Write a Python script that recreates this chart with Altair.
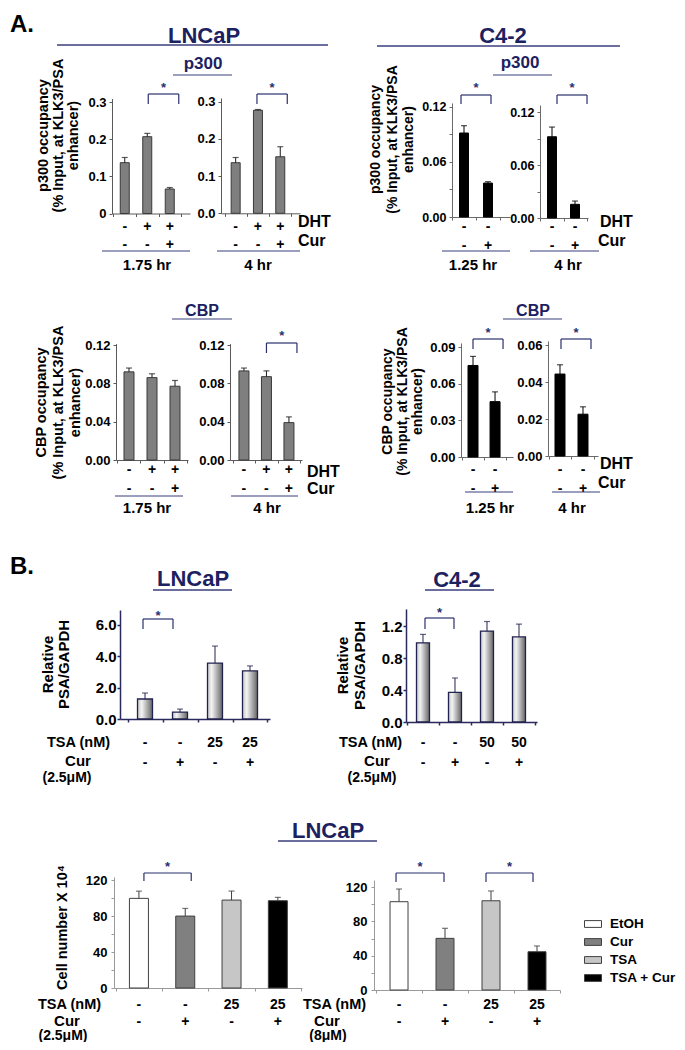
import altair as alt
import pandas as pd

FONT = "Liberation Sans"
NAVY = "#1c2160"
LINE = "#3b3f7c"
BRK = "#2b2f6e"
OFF = 8          # page margin (reference pixel -> canvas pixel)
WIDTH = 669
HEIGHT = 1034


def cx(v):
    return v - OFF


# ---------------- data ----------------
dht_3 = ["-", "+", "+"]
cur_3 = ["-", "-", "+"]
dht_2 = ["-", "-"]
cur_2 = ["-", "+"]
tsa_25 = ["-", "-", "25", "25"]
tsa_50 = ["-", "-", "50", "50"]
cur_4 = ["-", "+", "-", "+"]
conditions = ["EtOH", "Cur", "TSA", "TSA + Cur"]
cell_colors = ["#ffffff", "#808080", "#c6c6c6", "#000000"]

p300_lncap_175_mean = [0.137, 0.207, 0.066]
p300_lncap_175_err = [0.014, 0.009, 0.004]
p300_lncap_4_mean = [0.136, 0.277, 0.152]
p300_lncap_4_err = [0.014, 0.002, 0.027]
p300_c42_125_mean = [0.0916, 0.037]
p300_c42_125_err = [0.008, 0.0015]
p300_c42_4_mean = [0.092, 0.0155]
p300_c42_4_err = [0.011, 0.0037]
cbp_lncap_175_mean = [0.092, 0.086, 0.077]
cbp_lncap_175_err = [0.004, 0.004, 0.006]
cbp_lncap_4_mean = [0.093, 0.087, 0.039]
cbp_lncap_4_err = [0.003, 0.006, 0.006]
cbp_c42_125_mean = [0.0749, 0.0453]
cbp_c42_125_err = [0.0074, 0.008]
cbp_c42_4_mean = [0.0443, 0.0226]
cbp_c42_4_err = [0.005, 0.004]
psa_lncap_mean = [1.27, 0.44, 3.55, 3.05]
psa_lncap_err = [0.38, 0.19, 1.08, 0.32]
psa_c42_mean = [0.99, 0.37, 1.136, 1.064]
psa_c42_err = [0.105, 0.18, 0.12, 0.16]
cells_cur25_mean = [99.6, 79.9, 97.7, 97.0]
cells_cur25_err = [8.0, 8.5, 10.0, 3.7]
cells_cur8_mean = [102.9, 60.2, 104.0, 44.6]
cells_cur8_err = [14.8, 11.7, 11.4, 6.7]

GRAD = alt.LinearGradient(
    gradient="linear",
    stops=[alt.GradientStop(color="#c4c4c4", offset=0),
           alt.GradientStop(color="#f4f4f4", offset=0.28),
           alt.GradientStop(color="#656565", offset=1)],
    x1=0, x2=1, y1=0, y2=0)

STY = {
    "gray": dict(fill="#7f7f7f", stroke="#3a3a3a", sw=1, err="#1a1a1a", axis="#5a5a5a", aw=1, lp=3),
    "black": dict(fill="#000000", stroke="#000000", sw=1, err="#000000", axis="#6a6a6a", aw=1, lp=3),
    "grad": dict(fill=GRAD, stroke="#22224f", sw=1.3, err="#22224f", axis="#2a2a5e", aw=1.5, lp=1),
    "cells": dict(fill=None, stroke="#404040", sw=1, err="#404040", axis="#9a9a9a", aw=1, lp=4),
}


def ylabel_expr(vals, labs):
    expr = "''"
    for v, l in reversed(list(zip(vals, labs))):
        expr = f"abs(datum.value - {v}) < 1e-9 ? '{l}' : ({expr})"
    return expr


def build_panel(s):
    st = STY[s["style"]]
    n = len(s["mean"])
    cats = [f"c{i}" for i in range(n)]
    ax = cx(s["ax"])
    y0 = cx(s["y0"])
    ytop = y0 - s["ymax"] * s["ppu"]
    step = s["W"] / (n + 2 * s["po"])
    xs = alt.Scale(domain=cats, range=[ax, ax + s["W"]], paddingInner=0,
                   paddingOuter=s["po"], align=s["align"])
    ys = alt.Scale(domain=[0, s["ymax"]], range=[y0, ytop], nice=False, zero=False)
    xaxis = alt.Axis(orient="bottom", offset=y0 - HEIGHT, labels=False, title=None,
                     grid=False, tickBand="extent", tickSize=3,
                     domainColor=st["axis"], tickColor=st["axis"],
                     domainWidth=st["aw"], tickWidth=st["aw"])
    ykw = dict(orient="left", offset=-ax, values=s["yvals"],
               labelExpr=ylabel_expr(s["yvals"], s["ylabs"]), grid=False,
               tickSize=3, labelPadding=st["lp"], domainColor=st["axis"],
               tickColor=st["axis"], domainWidth=st["aw"], tickWidth=st["aw"],
               labelFont=FONT, labelFontSize=s["labsize"], labelFontWeight="bold",
               labelColor="black")
    if "ytitle" in s:
        t = s["ytitle"]
        nl = len(t["lines"])
        ykw.update(title=t["lines"] if nl > 1 else t["lines"][0],
                   titleX=t["tx"] - s["ax"] - (nl - 1) / 2 * t["lh"], titleY=cx(t["ty"]),
                   titleAngle=270, titleBaseline="middle", titleAlign="center",
                   titleFont=FONT, titleFontSize=t["fs"], titleFontWeight="bold",
                   titleColor="black", titleLineHeight=t["lh"])
    else:
        ykw.update(title=None)
    yaxis = alt.Axis(**ykw)

    df = pd.DataFrame({"cat": cats, "mean": s["mean"],
                       "hi": [m + e for m, e in zip(s["mean"], s["err"])],
                       "r1": s["r1"], "r2": s["r2"]})
    if s["style"] == "cells":
        df["cond"] = conditions
    base = alt.Chart(df)
    Xb = alt.X("cat:N", scale=xs, axis=xaxis)
    Xc = alt.X("cat:N", scale=xs, axis=xaxis, bandPosition=0.5)
    Ym = alt.Y("mean:Q", scale=ys, axis=yaxis)
    Yh = alt.Y("hi:Q", scale=ys, axis=yaxis)

    layers = []
    if s["style"] == "cells":
        if s.get("legend"):
            leg = alt.Legend(orient="none", legendX=cx(s["legend"][0]), legendY=cx(s["legend"][1]),
                             title=None, symbolType="M-1,-0.4H1V0.4H-1Z", symbolSize=289,
                             symbolStrokeColor="#404040", symbolStrokeWidth=1,
                             labelFont=FONT, labelFontSize=13.5, labelFontWeight="bold",
                             labelColor="black", labelOffset=8, rowPadding=2, padding=0)
        else:
            leg = None
        layers.append(base.mark_bar(size=s["bw"], stroke=st["stroke"], strokeWidth=st["sw"]).encode(
            x=Xb, y=Ym,
            color=alt.Color("cond:N", scale=alt.Scale(domain=conditions, range=cell_colors), legend=leg)))
    else:
        layers.append(base.mark_bar(size=s["bw"], fill=st["fill"], stroke=st["stroke"],
                                    strokeWidth=st["sw"]).encode(x=Xb, y=Ym))
    layers.append(base.mark_rule(color=st["err"], strokeWidth=1).encode(x=Xc, y=Ym, y2=alt.Y2("hi")))
    layers.append(base.mark_tick(color=st["err"], thickness=1.2, size=6).encode(x=Xc, y=Yh))
    for key, yy in (("r1", s["r1y"]), ("r2", s["r2y"])):
        layers.append(base.mark_text(font=FONT, fontSize=14, fontWeight="bold", color="black",
                                     baseline="alphabetic").encode(
            x=Xc, y=alt.value(cx(yy)), text=alt.Text(f"{key}:N")))
    for (i, j, dl, dr, yh, yb, ysb) in s.get("brackets", []):
        bl = alt.Chart(pd.DataFrame({"cat": [cats[i]], "cat2": [cats[j]]}))
        br = alt.Chart(pd.DataFrame({"cat": [cats[j]]}))
        layers.append(bl.mark_rule(color=BRK, strokeWidth=1.2, xOffset=dl, x2Offset=dr).encode(
            x=Xc, x2=alt.X2("cat2", bandPosition=0.5), y=alt.value(cx(yh))))
        layers.append(bl.mark_rule(color=BRK, strokeWidth=1.2, xOffset=dl).encode(
            x=Xc, y=alt.value(cx(yh)), y2=alt.value(cx(yb))))
        layers.append(br.mark_rule(color=BRK, strokeWidth=1.2, xOffset=dr).encode(
            x=Xc, y=alt.value(cx(yh)), y2=alt.value(cx(yb))))
        layers.append(bl.mark_text(text="*", font=FONT, fontSize=13, fontWeight="bold", color=BRK,
                                   baseline="alphabetic", xOffset=(step + dl + dr) / 2).encode(
            x=Xc, y=alt.value(cx(ysb))))
    return alt.layer(*layers)


dummy = pd.DataFrame({"k": [0]})


def txt(s, x, y, size, align="left", color="black"):
    return alt.Chart(dummy).mark_text(text=s, font=FONT, fontSize=size, fontWeight="bold",
                                      align=align, baseline="alphabetic", color=color).encode(
        x=alt.value(cx(x)), y=alt.value(cx(y)))


def hline(x1, x2, y, color=LINE, w=1.2):
    return alt.Chart(dummy).mark_rule(color=color, strokeWidth=w).encode(
        x=alt.value(cx(x1)), x2=alt.value(cx(x2)), y=alt.value(cx(y)))


T_P300 = ["p300 occupancy", "(% Input, at KLK3/PSA", "enhancer)"]
T_CBP = ["CBP occupancy", "(% Input, at KLK3/PSA", "enhancer)"]
T_PSA = ["Relative", "PSA/GAPDH"]

panels = [
    # A. p300, LNCaP
    dict(mean=p300_lncap_175_mean, err=p300_lncap_175_err, r1=dht_3, r2=cur_3, ax=112, W=78,
         po=0.233, align=0.143, y0=213.5, ppu=371, ymax=0.31, yvals=[0, 0.1, 0.2, 0.3],
         ylabs=["0", "0.1", "0.2", "0.3"], bw=9, style="gray", r1y=231, r2y=249, labsize=13,
         brackets=[(1, 2, 1, 9, 94, 104, 92)],
         ytitle=dict(lines=T_P300, tx=58, ty=135, lh=15, fs=14.5)),
    dict(mean=p300_lncap_4_mean, err=p300_lncap_4_err, r1=dht_3, r2=cur_3, ax=221, W=79,
         po=0.271, align=0.29, y0=213.3, ppu=372, ymax=0.31, yvals=[0, 0.1, 0.2, 0.3],
         ylabs=["0.0", "0.1", "0.2", "0.3"], bw=9, style="gray", r1y=231, r2y=249, labsize=13,
         brackets=[(1, 2, -1, 7, 94, 104, 92)]),
    # A. p300, C4-2
    dict(mean=p300_c42_125_mean, err=p300_c42_125_err, r1=dht_2, r2=cur_2, ax=452, W=58,
         po=0.208, align=0, y0=217, ppu=916.7, ymax=0.1244, yvals=[0, 0.03, 0.06, 0.09, 0.12],
         ylabs=["0.00", "", "0.06", "", "0.12"], bw=9, style="black", r1y=231, r2y=250, labsize=12.5,
         brackets=[(0, 1, -3, 3, 95, 104, 92)],
         ytitle=dict(lines=T_P300, tx=392, ty=139, lh=16.5, fs=14)),
    dict(mean=p300_c42_4_mean, err=p300_c42_4_err, r1=dht_2, r2=cur_2, ax=540, W=48,
         po=0.043, align=0.25, y0=218, ppu=883, ymax=0.128, yvals=[0, 0.03, 0.06, 0.09, 0.12],
         ylabs=["0.00", "", "0.06", "", "0.12"], bw=9, style="black", r1y=231, r2y=250, labsize=12.5,
         brackets=[(0, 1, 5, 12, 95, 104, 92)]),
    # A. CBP, LNCaP
    dict(mean=cbp_lncap_175_mean, err=cbp_lncap_175_err, r1=dht_3, r2=cur_3, ax=116, W=72,
         po=0.065, align=0.5, y0=460, ppu=958, ymax=0.1215, yvals=[0, 0.04, 0.08, 0.12],
         ylabs=["0.00", "0.04", "0.08", "0.12"], bw=10, style="gray", r1y=474, r2y=493, labsize=13,
         ytitle=dict(lines=T_CBP, tx=58, ty=402, lh=17, fs=14.5)),
    dict(mean=cbp_lncap_4_mean, err=cbp_lncap_4_err, r1=dht_3, r2=cur_3, ax=230, W=72,
         po=0.1, align=0.6, y0=460, ppu=958, ymax=0.1215, yvals=[0, 0.04, 0.08, 0.12],
         ylabs=["0.00", "0.04", "0.08", "0.12"], bw=10, style="gray", r1y=474, r2y=493, labsize=13,
         brackets=[(1, 2, 0, 8, 343, 353, 340)]),
    # A. CBP, C4-2
    dict(mean=cbp_c42_125_mean, err=cbp_c42_125_err, r1=dht_2, r2=cur_2, ax=461, W=52,
         po=0.18, align=0.125, y0=457, ppu=1222, ymax=0.0933, yvals=[0, 0.03, 0.06, 0.09],
         ylabs=["0.00", "0.03", "0.06", "0.09"], bw=10, style="black", r1y=474, r2y=493, labsize=13,
         brackets=[(0, 1, 0, 8, 339, 349, 337)],
         ytitle=dict(lines=T_CBP, tx=402, ty=401, lh=15, fs=14)),
    dict(mean=cbp_c42_4_mean, err=cbp_c42_4_err, r1=dht_2, r2=cur_2, ax=548, W=50,
         po=0.087, align=0.125, y0=456, ppu=1850, ymax=0.0622, yvals=[0, 0.02, 0.04, 0.06],
         ylabs=["0.00", "0.02", "0.04", "0.06"], bw=10, style="black", r1y=474, r2y=493, labsize=13,
         brackets=[(0, 1, 1, 8, 339, 349, 337)]),
    # B. PSA mRNA
    dict(mean=psa_lncap_mean, err=psa_lncap_err, r1=tsa_25, r2=cur_4, ax=120, W=150,
         po=0.143, align=0.75, y0=719, ppu=15.75, ymax=6.92, yvals=[0, 2, 4, 6],
         ylabs=["0.0", "2.0", "4.0", "6.0"], bw=15, style="grad", r1y=747, r2y=767, labsize=15,
         brackets=[(0, 1, -2, -7, 619, 629, 620)],
         ytitle=dict(lines=T_PSA, tx=55, ty=664, lh=16, fs=15)),
    dict(mean=psa_c42_mean, err=psa_c42_err, r1=tsa_50, r2=cur_4, ax=406, W=131,
         po=0.047, align=0.33, y0=722, ppu=80, ymax=1.413, yvals=[0, 0.4, 0.8, 1.2],
         ylabs=["0.0", "0.4", "0.8", "1.2"], bw=13, style="grad", r1y=747, r2y=767, labsize=15,
         brackets=[(0, 1, 2, -1, 618, 629, 617)],
         ytitle=dict(lines=T_PSA, tx=351, ty=665, lh=17, fs=15)),
    # B. cell number
    dict(mean=cells_cur25_mean, err=cells_cur25_err, r1=tsa_25, r2=cur_4, ax=114, W=188,
         po=0.03, align=0.64, y0=988, ppu=0.9, ymax=123.3, yvals=[0, 20, 40, 60, 80, 100, 120],
         ylabs=["0", "", "40", "", "80", "", "120"], bw=19, style="cells", r1y=1009, r2y=1026,
         labsize=13, brackets=[(0, 1, 5, 6, 873, 881, 871)],
         ytitle=dict(lines=["Cell number X 10\u2074"], tx=62, ty=927, lh=15, fs=14.5)),
    dict(mean=cells_cur8_mean, err=cells_cur8_err, r1=tsa_25, r2=cur_4, ax=374, W=186,
         po=0.022, align=1, y0=990, ppu=0.858, ymax=128.2, yvals=[0, 20, 40, 60, 80, 100, 120],
         ylabs=["0", "", "40", "", "80", "", "120"], bw=18, style="cells", r1y=1009, r2y=1026,
         labsize=13, brackets=[(0, 1, -3, -1, 873, 882, 871), (2, 3, -5, -4, 873, 882, 871)],
         legend=(584, 915)),
]

decor = [
    txt("A.", 10, 32, 24), txt("B.", 10, 574, 24),
    txt("LNCaP", 204, 43, 22, "center", NAVY), hline(57, 328, 45, w=1.3),
    txt("C4-2", 503, 43, 22, "center", NAVY), hline(377, 620, 46, w=1.3),
    txt("p300", 203, 69, 17, "center", NAVY), hline(173, 232, 75),
    txt("p300", 520, 68, 17, "center", NAVY), hline(493, 552, 75),
    txt("CBP", 202, 316, 16, "center", NAVY), hline(172, 232, 319),
    txt("CBP", 533, 316, 16, "center", NAVY), hline(503, 562, 319),
    txt("LNCaP", 193, 586, 22, "center", NAVY), hline(153, 232, 590, w=1.3),
    txt("C4-2", 457, 587, 22, "center", NAVY), hline(425, 494, 590, w=1.3),
    txt("LNCaP", 328, 838, 22, "center", NAVY), hline(278, 377, 841, w=1.3),
    # A row 1 labels
    txt("DHT", 298, 227, 16), txt("Cur", 298, 246, 16),
    txt("DHT", 600, 227, 16), txt("Cur", 598, 246, 16),
    hline(102, 190, 251), txt("1.75 hr", 147, 270, 15, "center"),
    hline(217, 300, 251), txt("4 hr", 258, 270, 15, "center"),
    hline(442, 510, 251), txt("1.25 hr", 473, 270, 15, "center"),
    hline(530, 599, 251), txt("4 hr", 568, 270, 15, "center"),
    # A row 2 labels
    txt("DHT", 307, 477, 16), txt("Cur", 307, 494, 16),
    txt("DHT", 600, 469, 16), txt("Cur", 598, 488, 16),
    hline(115, 183, 496), txt("1.75 hr", 147, 513, 15, "center"),
    hline(231, 298, 496), txt("4 hr", 267, 513, 15, "center"),
    hline(465, 513, 492), txt("1.25 hr", 490, 513, 15, "center"),
    hline(552, 600, 492), txt("4 hr", 572, 513, 15, "center"),
    # B row 1 labels
    txt("TSA (nM)", 47, 747, 14.5), txt("Cur", 78, 766, 15, "center"),
    txt("(2.5\u03bcM)", 67, 782, 14, "center"),
    txt("TSA (nM)", 339, 747, 14.5), txt("Cur", 377, 766, 15, "center"),
    txt("(2.5\u03bcM)", 372, 782, 14, "center"),
    # B row 2 labels
    txt("TSA (nM)", 38, 1009, 14.5), txt("Cur", 67, 1026, 15, "center"),
    txt("(2.5\u03bcM)", 63, 1040, 14, "center"),
    txt("TSA (nM)", 303, 1009, 14.5), txt("Cur", 327, 1026, 15, "center"),
    txt("(8\u03bcM)", 328, 1040, 14, "center"),
]

chart = alt.layer(*[build_panel(p) for p in panels], *decor).resolve_scale(
    x="independent", y="independent", color="independent"
).resolve_axis(x="independent", y="independent").properties(
    width=WIDTH, height=HEIGHT, autosize=alt.AutoSizeParams(type="none"), padding=0,
    background="white"
).configure_view(strokeWidth=0)

chart.save("out.html", embed_options={"renderer": "svg", "actions": False})
